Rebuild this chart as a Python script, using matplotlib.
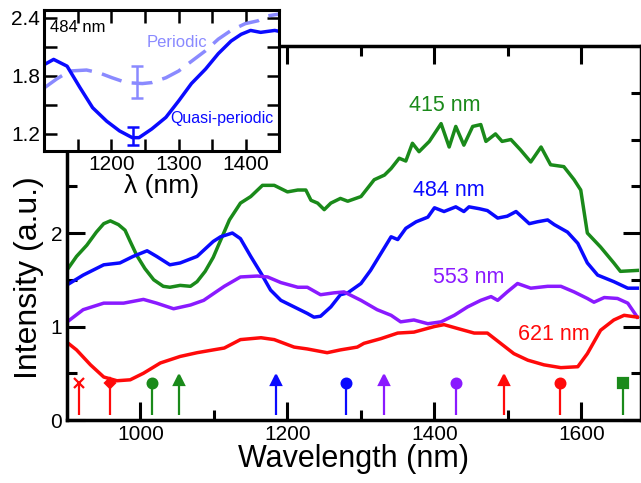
import matplotlib
matplotlib.use("Agg")
import matplotlib.pyplot as plt
from matplotlib.ticker import MultipleLocator

plt.rcParams['font.family'] = ['Liberation Sans', 'DejaVu Sans']

GREEN = '#1a8a1a'
BLUE = '#0a0aff'
PURPLE = '#8a1aff'
RED = '#ff0a0a'
LIGHT = '#8a8aff'

# main spectra (wavelength nm, intensity a.u.)
wl_415 = [897, 913, 927, 940, 950, 959, 970, 979, 986, 995, 1006, 1018, 1031, 1040, 1054, 1068,
          1077, 1088, 1099, 1105, 1121, 1136, 1150, 1166, 1182, 1200, 1214, 1225, 1232, 1241, 1250,
          1259, 1272, 1282, 1300, 1318, 1332, 1341, 1352, 1361, 1370, 1379, 1393, 1409, 1420, 1429,
          1440, 1452, 1463, 1470, 1483, 1492, 1504, 1517, 1531, 1545, 1558, 1576, 1590, 1599, 1608,
          1626, 1644, 1653, 1676]
int_415 = [1.57, 1.75, 1.87, 2.01, 2.10, 2.13, 2.09, 2.03, 1.91, 1.76, 1.62, 1.50, 1.43, 1.42, 1.44, 1.43,
           1.48, 1.59, 1.74, 1.85, 2.14, 2.32, 2.39, 2.51, 2.51, 2.44, 2.46, 2.46, 2.35, 2.32, 2.25,
           2.32, 2.37, 2.34, 2.39, 2.57, 2.62, 2.69, 2.80, 2.77, 2.96, 2.87, 2.98, 3.17, 2.92, 3.14,
           2.94, 3.14, 3.16, 2.98, 3.06, 2.98, 3.00, 2.89, 2.76, 2.92, 2.73, 2.71, 2.57, 2.46, 2.00,
           1.85, 1.68, 1.59, 1.60]

wl_484 = [897, 922, 950, 972, 990, 1009, 1022, 1040, 1054, 1077, 1099, 1109, 1125, 1136, 1150, 1164,
          1177, 1191, 1209, 1227, 1236, 1245, 1259, 1272, 1282, 1300, 1313, 1327, 1341, 1350, 1361,
          1375, 1391, 1400, 1413, 1429, 1440, 1447, 1461, 1472, 1486, 1499, 1511, 1529, 1540, 1554,
          1563, 1581, 1595, 1608, 1622, 1644, 1663, 1676]
int_484 = [1.43, 1.55, 1.66, 1.68, 1.75, 1.81, 1.75, 1.66, 1.68, 1.75, 1.91, 1.96, 2.00, 1.94, 1.75, 1.57,
           1.39, 1.28, 1.21, 1.14, 1.10, 1.11, 1.21, 1.34, 1.36, 1.46, 1.60, 1.78, 1.96, 1.93, 2.05,
           2.12, 2.17, 2.27, 2.23, 2.28, 2.23, 2.28, 2.26, 2.24, 2.16, 2.18, 2.23, 2.10, 2.12, 2.14,
           2.09, 2.01, 1.89, 1.68, 1.55, 1.48, 1.41, 1.41]

wl_553 = [897, 922, 950, 977, 1004, 1022, 1045, 1068, 1086, 1099, 1114, 1136, 1159, 1173, 1191, 1214,
          1227, 1245, 1263, 1277, 1300, 1322, 1341, 1354, 1372, 1391, 1409, 1427, 1445, 1463, 1477,
          1486, 1499, 1513, 1531, 1554, 1572, 1590, 1608, 1617, 1631, 1649, 1663, 1676]
int_553 = [1.03, 1.18, 1.25, 1.25, 1.29, 1.25, 1.19, 1.23, 1.28, 1.35, 1.43, 1.53, 1.54, 1.53, 1.47, 1.42,
           1.42, 1.34, 1.36, 1.37, 1.28, 1.18, 1.12, 1.05, 1.07, 1.03, 1.05, 1.12, 1.21, 1.28, 1.32,
           1.28, 1.37, 1.46, 1.41, 1.43, 1.43, 1.37, 1.30, 1.26, 1.31, 1.30, 1.25, 1.10]

wl_621 = [897, 913, 932, 950, 968, 986, 1004, 1027, 1054, 1077, 1099, 1114, 1136, 1164, 1182, 1209,
          1227, 1254, 1272, 1295, 1304, 1327, 1350, 1372, 1400, 1413, 1431, 1454, 1472, 1490, 1508,
          1527, 1549, 1572, 1595, 1608, 1626, 1644, 1658, 1676]
int_621 = [0.85, 0.75, 0.59, 0.46, 0.42, 0.43, 0.50, 0.61, 0.68, 0.72, 0.75, 0.77, 0.86, 0.88, 0.86, 0.78,
           0.76, 0.72, 0.75, 0.78, 0.82, 0.87, 0.93, 0.94, 1.00, 1.02, 0.98, 0.93, 0.93, 0.82, 0.71,
           0.64, 0.59, 0.56, 0.57, 0.71, 0.96, 1.07, 1.12, 1.10]

# resonance markers along the bottom
mark_wl = [916, 959, 1016, 1052, 1185, 1279, 1332, 1429, 1494, 1571, 1656]
mark_col = [RED, RED, GREEN, GREEN, BLUE, BLUE, PURPLE, PURPLE, RED, RED, GREEN]
mark_sym = ['x', 'D', 'o', '^', '^', 'o', '^', 'o', '^', 'o', 's']
stem_lo, stem_hi = 0.05, 0.40

# inset: 484 nm periodic vs quasi-periodic
in_wl_q = [1101, 1114, 1134, 1153, 1172, 1193, 1212, 1231, 1241, 1260, 1281, 1300, 1319, 1340,
           1359, 1378, 1393, 1407, 1422, 1443, 1450]
in_q = [1.92, 1.97, 1.90, 1.68, 1.47, 1.33, 1.23, 1.16, 1.16, 1.25, 1.37, 1.54, 1.72, 1.87,
        2.03, 2.16, 2.23, 2.27, 2.25, 2.27, 2.26]
in_wl_p = [1101, 1119, 1138, 1163, 1182, 1201, 1222, 1246, 1260, 1281, 1300, 1319, 1340, 1359,
           1378, 1399, 1418, 1432, 1450]
in_p = [1.68, 1.77, 1.85, 1.86, 1.83, 1.78, 1.73, 1.72, 1.73, 1.78, 1.85, 1.95, 2.06, 2.18,
        2.27, 2.34, 2.37, 2.42, 2.44]
err_q = (1232, 1.175, 0.095)
err_p = (1238, 1.735, 0.165)

fig = plt.figure(figsize=(6.41, 4.83), dpi=100)
ax = fig.add_axes([0.1045, 0.1304, 0.8955, 0.7743])

lw = 2.5
for x, y, c in [(wl_415, int_415, GREEN), (wl_484, int_484, BLUE),
                (wl_553, int_553, PURPLE), (wl_621, int_621, RED)]:
    ax.plot(x, y, color=c, lw=lw, solid_joinstyle='round')

for w, c, m in zip(mark_wl, mark_col, mark_sym):
    ax.vlines(w, stem_lo, stem_hi, color=c, lw=1.6)
    ax.plot([w], [stem_hi + (0.03 if m == '^' else 0)], marker=m, color=c, ms=7 if m != 'D' else 5,
            mew=1.6, ls='none')

ax.text(1414, 3.36, '415 nm', color=GREEN, fontsize=15.5, ha='center', va='center')
ax.text(1420, 2.46, '484 nm', color=BLUE, fontsize=15.5, ha='center', va='center')
ax.text(1447, 1.52, '553 nm', color=PURPLE, fontsize=15.5, ha='center', va='center')
ax.text(1563, 0.91, '621 nm', color=RED, fontsize=15.5, ha='center', va='center')

ax.set_xlim(900, 1681)
ax.set_ylim(0, 4)
ax.set_xticks([1000, 1200, 1400, 1600])
ax.xaxis.set_minor_locator(MultipleLocator(100))
ax.set_yticks([0, 1, 2])
ax.set_yticks([0.5, 1.5, 2.5, 3.0, 3.5, 4.0], minor=True)
ax.tick_params(which='both', direction='in', top=True, right=True, width=2.2, labelsize=15)
ax.tick_params(which='major', length=13)
ax.tick_params(which='minor', length=7)
for s in ax.spines.values():
    s.set_linewidth(2.5)
ax.set_xlabel('Wavelength (nm)', fontsize=22, labelpad=0)
ax.set_ylabel('Intensity (a.u.)', fontsize=23)
ax.yaxis.set_label_coords(-0.04, 0.38)

ins = fig.add_axes([0.069, 0.687, 0.367, 0.292])
ins.set_facecolor('white')
ins.plot(in_wl_p, in_p, color=LIGHT, lw=2.5, dashes=(6, 3))
ins.plot(in_wl_q, in_q, color=BLUE, lw=2.5)
ins.errorbar([err_p[0]], [err_p[1]], yerr=[err_p[2]], color=LIGHT, lw=1.8, capsize=4, capthick=1.8)
ins.errorbar([err_q[0]], [err_q[1]], yerr=[err_q[2]], color=BLUE, lw=1.8, capsize=4, capthick=1.8)
ins.text(1108, 2.3, '484 nm', color='black', fontsize=12, ha='left', va='center')
ins.text(1253, 2.15, 'Periodic', color=LIGHT, fontsize=12, ha='left', va='center')
ins.text(1288, 1.36, 'Quasi-periodic', color=BLUE, fontsize=11.5, ha='left', va='center')
ins.set_xlim(1100, 1450)
ins.set_ylim(1.02, 2.48)
ins.set_xticks([1200, 1300, 1400])
ins.xaxis.set_minor_locator(MultipleLocator(50))
ins.set_yticks([1.2, 1.8, 2.4])
ins.yaxis.set_minor_locator(MultipleLocator(0.3))
ins.tick_params(which='both', direction='in', top=True, right=True, width=1.8, labelsize=15, pad=3)
ins.tick_params(which='major', length=9)
ins.tick_params(which='minor', length=9)
for s in ins.spines.values():
    s.set_linewidth(2.2)
ins.set_xlabel('λ (nm)', fontsize=19, labelpad=0)

fig.savefig('out.png', dpi=100)
